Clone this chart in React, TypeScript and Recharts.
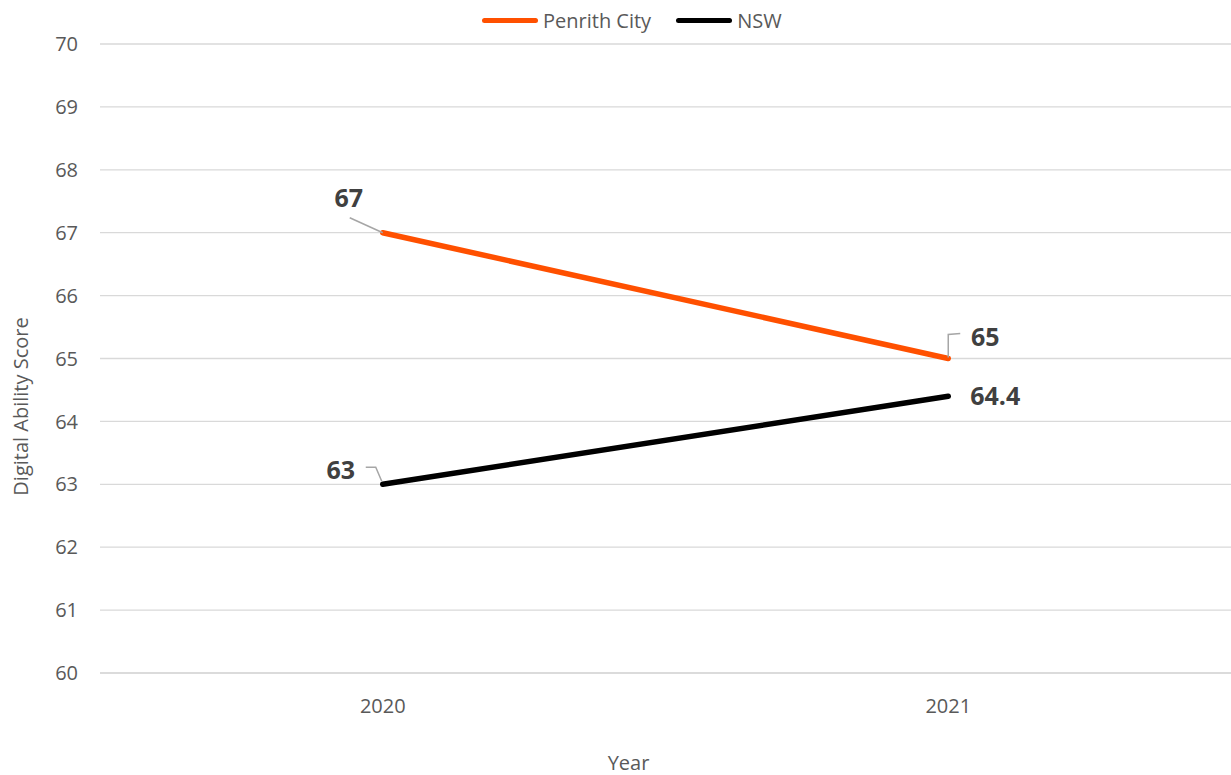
import React from 'react';
import { LineChart, Line, XAxis, YAxis, CartesianGrid, Legend, LabelList } from 'recharts';

const years = ['2020', '2021'];
const penrithScores = [67, 65];
const nswScores = [63, 64.4];
const yTicks = [60, 61, 62, 63, 64, 65, 66, 67, 68, 69, 70];

const data = years.map((year, i) => ({
  year,
  penrith: penrithScores[i],
  nsw: nswScores[i],
}));

const FONT = '"Open Sans", "Noto Sans", sans-serif';
const ORANGE = '#FF5000';
const LEADER = '#A6A6A6';

const labelText = (x: number, y: number, value: any) => (
  <text
    x={x}
    y={y}
    textAnchor="middle"
    dominantBaseline="central"
    fontFamily={FONT}
    fontSize={25}
    fontWeight={700}
    fill="#404040"
  >
    {value}
  </text>
);

// Penrith labels: first sits up-left with a diagonal leader, second up-right with an elbow leader
const PenrithLabel = (props: any) => {
  const { x, y, value, index } = props;
  if (index === 0) {
    return (
      <g>
        <line x1={x - 33} y1={y - 15} x2={x} y2={y} stroke={LEADER} strokeWidth={1.5} />
        {labelText(x - 34, y - 36, value)}
      </g>
    );
  }
  return (
    <g>
      <polyline points={`${x},${y - 1} ${x},${y - 24} ${x + 12},${y - 25}`} fill="none" stroke={LEADER} strokeWidth={1.5} />
      {labelText(x + 37, y - 23, value)}
    </g>
  );
};

const NswLabel = (props: any) => {
  const { x, y, value, index } = props;
  if (index === 0) {
    return (
      <g>
        <polyline points={`${x - 17},${y - 17} ${x - 7},${y - 17} ${x - 1},${y - 3}`} fill="none" stroke={LEADER} strokeWidth={1.5} />
        {labelText(x - 42, y - 15, value)}
      </g>
    );
  }
  return labelText(x + 47, y - 1, value);
};

const LegendContent = () => {
  const items = [
    { name: 'Penrith City', color: ORANGE },
    { name: 'NSW', color: '#000000' },
  ];
  return (
    <div style={{ display: 'flex', alignItems: 'center', fontFamily: FONT, fontSize: 20, color: '#595959', height: 27 }}>
      {items.map((it) => (
        <div key={it.name} style={{ display: 'flex', alignItems: 'center', marginRight: 25 }}>
          <span style={{ width: 56, height: 5, borderRadius: 3, background: it.color, marginRight: 5 }} />
          <span>{it.name}</span>
        </div>
      ))}
    </div>
  );
};

export default function App() {
  return (
    <div style={{ position: 'absolute', left: 0, top: 0, width: 1231, height: 775, background: '#ffffff' }}>
      <LineChart width={1231} height={775} data={data} margin={{ top: 17, right: 0, bottom: 42, left: 0 }}>
        <CartesianGrid vertical={false} stroke="#d9d9d9" strokeWidth={1.3} />
        <XAxis
          dataKey="year"
          scale="band"
          height={60}
          axisLine={{ stroke: '#d9d9d9', strokeWidth: 1.3 }}
          tickLine={false}
          tickSize={0}
          tickMargin={26}
          tick={{ fill: '#595959', fontSize: 20, fontFamily: FONT }}
          label={{
            content: (p: any) => {
              const vb = p.viewBox;
              return (
                <text x={vb.x + vb.width / 2 - 37} y={762} textAnchor="middle" dominantBaseline="central" fontFamily={FONT} fontSize={20} fill="#595959">
                  Year
                </text>
              );
            },
          }}
        />
        <YAxis
          width={100}
          domain={[60, 70]}
          ticks={yTicks}
          interval={0}
          axisLine={false}
          tickLine={false}
          tickSize={0}
          tickMargin={22}
          tick={{ fill: '#595959', fontSize: 20, fontFamily: FONT }}
          label={{
            content: (p: any) => {
              const vb = p.viewBox;
              const cy = vb.y + vb.height / 2 + 48;
              return (
                <text x={20} y={cy} transform={`rotate(-90, 20, ${cy})`} textAnchor="middle" dominantBaseline="central" fontFamily={FONT} fontSize={20} fill="#595959">
                  Digital Ability Score
                </text>
              );
            },
          }}
        />
        <Legend verticalAlign="top" height={27} content={<LegendContent />} wrapperStyle={{ top: 7, left: 482, width: 'auto' }} />
        <Line
          dataKey="penrith"
          name="Penrith City"
          stroke={ORANGE}
          strokeWidth={5.5}
          strokeLinecap="round"
          dot={false}
          activeDot={false}
          isAnimationActive={false}
        >
          <LabelList dataKey="penrith" content={<PenrithLabel />} />
        </Line>
        <Line
          dataKey="nsw"
          name="NSW"
          stroke="#000000"
          strokeWidth={5.5}
          strokeLinecap="round"
          dot={false}
          activeDot={false}
          isAnimationActive={false}
        >
          <LabelList dataKey="nsw" content={<NswLabel />} />
        </Line>
      </LineChart>
    </div>
  );
}
